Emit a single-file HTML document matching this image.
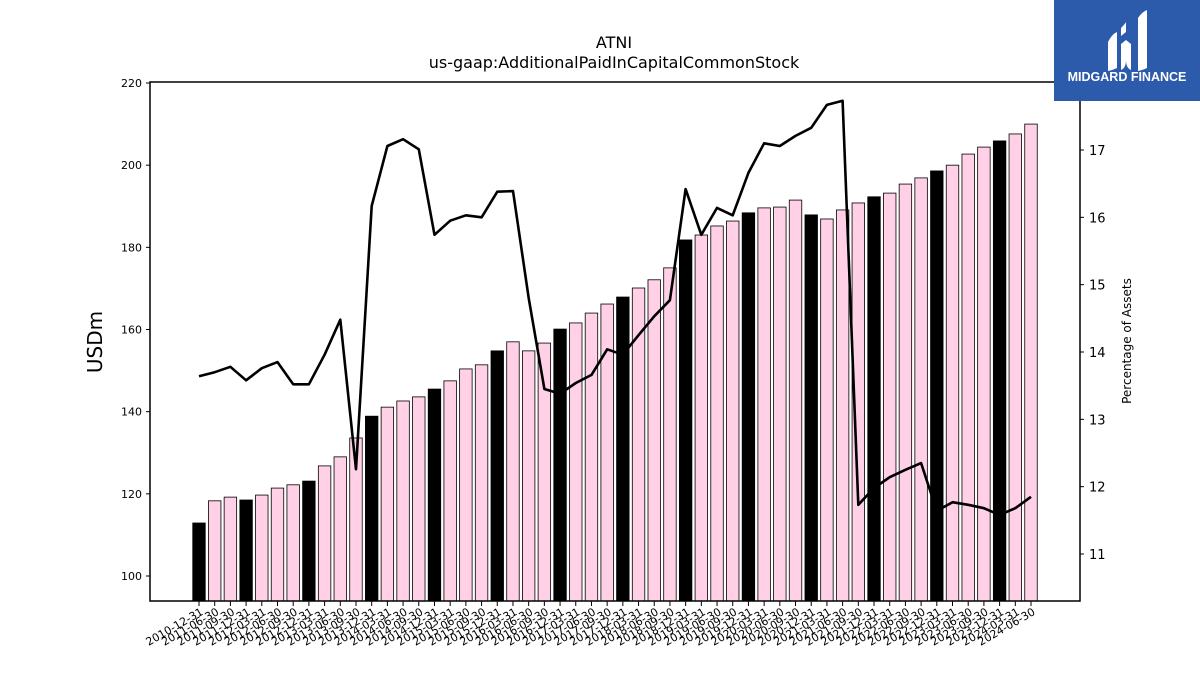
<!DOCTYPE html>
<html><head><meta charset="utf-8"><style>
html,body{margin:0;padding:0;background:#fff;width:1200px;height:675px;overflow:hidden;font-family:"Liberation Sans","DejaVu Sans",sans-serif;}
</style></head><body>
<svg id="chart" width="1200" height="675" xmlns="http://www.w3.org/2000/svg" font-family="'DejaVu Sans','Liberation Sans',sans-serif">
<rect width="1200" height="675" fill="#fff"/>
<text x="614" y="48" text-anchor="middle" font-size="16">ATNI</text>
<text x="614" y="68" text-anchor="middle" font-size="16">us-gaap:AdditionalPaidInCapitalCommonStock</text>
<g id="bars"></g>
<g id="line"></g>
<rect x="150" y="82" width="930" height="519" fill="none" stroke="#000" stroke-width="1.5"/>
<g id="yleft"></g>
<g id="yright"></g>
<g id="xaxis"></g>
<text x="102" y="342" font-size="20" text-anchor="middle" transform="rotate(-90 102 342)">USDm</text>
<text x="1131" y="341" font-size="12" text-anchor="middle" transform="rotate(-90 1131 341)">Percentage of Assets</text>
<g>
<rect x="1054" y="0" width="146" height="101" fill="#2d5bab"/>
<path d="M1108 42 q4 -8 9 -10 v36 q-4 2 -9 3z M1121 28 q4 -4 5 -6 v10 l-5 4z M1121 44 l5 -4 l5 4 v26 q-5 -2 -5 -10 q0 8 -5 10z M1138 18 q4 -6 9 -8 v58 q-4 2 -9 3z" fill="#fff"/>
<text x="1127" y="81" text-anchor="middle" font-size="12.5" font-weight="bold" fill="#fff" font-family="'Liberation Sans',sans-serif">MIDGARD FINANCE</text>
</g>
</svg>
<script>
const categories = ["2010-12-31","2011-06-30","2011-09-30","2011-12-31","2012-03-31","2012-06-30","2012-09-30","2012-12-31","2013-03-31","2013-06-30","2013-09-30","2013-12-31","2014-03-31","2014-06-30","2014-09-30","2014-12-31","2015-03-31","2015-06-30","2015-09-30","2015-12-31","2016-03-31","2016-06-30","2016-09-30","2016-12-31","2017-03-31","2017-06-30","2017-09-30","2017-12-31","2018-03-31","2018-06-30","2018-09-30","2018-12-31","2019-03-31","2019-06-30","2019-09-30","2019-12-31","2020-03-31","2020-06-30","2020-09-30","2020-12-31","2021-03-31","2021-06-30","2021-09-30","2021-12-31","2022-03-31","2022-06-30","2022-09-30","2022-12-31","2023-03-31","2023-06-30","2023-09-30","2023-12-31","2024-03-31","2024-06-30"];
const apicValues = [112.9,118.3,119.2,118.5,119.7,121.4,122.2,123.1,126.8,129.0,133.6,138.9,141.1,142.6,143.6,145.5,147.5,150.4,151.4,154.8,157.0,154.8,156.7,160.1,161.6,164.0,166.2,167.9,170.1,172.1,175.0,181.8,183.0,185.2,186.4,188.4,189.6,189.8,191.5,187.9,186.9,189.1,190.8,192.3,193.2,195.4,196.9,198.6,200.0,202.7,204.4,205.9,207.6,210.0];
const pctValues = [13.64,13.70,13.78,13.58,13.76,13.85,13.52,13.52,13.96,14.48,12.26,16.17,17.06,17.16,17.01,15.74,15.95,16.03,16.00,16.38,16.39,14.80,13.45,13.38,13.54,13.66,14.04,13.96,14.25,14.53,14.77,16.42,15.74,16.14,16.03,16.66,17.10,17.06,17.21,17.33,17.67,17.73,11.73,11.98,12.14,12.25,12.35,11.64,11.77,11.73,11.68,11.58,11.68,11.85];
const leftTicks = [100,120,140,160,180,200,220];
const rightTicks = [11,12,13,14,15,16,17];

const NS="http://www.w3.org/2000/svg";
const plotTop=82, plotBottom=601, plotLeft=150, plotRight=1080;
const yL = v => 576 + (v-100)*(83-576)/120;
const yR = v => 554 + (v-11)*(150-554)/6;
const xPos = i => 199 + i*(1031-199)/(categories.length-1);
const bw = 12.5;
function mk(tag, attrs, parent){const e=document.createElementNS(NS,tag);for(const k in attrs)e.setAttribute(k,attrs[k]);parent.appendChild(e);return e;}

const gb=document.getElementById('bars');
apicValues.forEach((v,i)=>{
  const isYE = categories[i].endsWith("12-31");
  const y=yL(v);
  const r=mk('rect',{x:xPos(i)-bw/2,y:y,width:bw,height:plotBottom-y,fill:isYE?'#000':'#ffd0e6',stroke:'#000','stroke-width':0.8},gb);
  
  
});

const gl=document.getElementById('line');
const pts=pctValues.map((v,i)=>xPos(i).toFixed(1)+','+yR(v).toFixed(1)).join(' ');
const pl=mk('polyline',{points:pts,fill:'none',stroke:'#000','stroke-width':2.6,'stroke-linejoin':'round'},gl);



const gyl=document.getElementById('yleft');
leftTicks.forEach(t=>{
  const y=yL(t);
  mk('line',{x1:plotLeft-4,x2:plotLeft,y1:y,y2:y,stroke:'#000','stroke-width':1},gyl);
  const tx=mk('text',{x:plotLeft-8,y:y+4,'text-anchor':'end','font-size':11},gyl);
  tx.textContent=t;
  
  
});
const gyr=document.getElementById('yright');
rightTicks.forEach(t=>{
  const y=yR(t);
  mk('line',{x1:plotRight,x2:plotRight+4,y1:y,y2:y,stroke:'#000','stroke-width':1},gyr);
  const tx=mk('text',{x:plotRight+9,y:y+5,'font-size':13},gyr);
  tx.textContent=t;
  
  
});
const gx=document.getElementById('xaxis');
categories.forEach((c,i)=>{
  const x=xPos(i);
  mk('line',{x1:x,x2:x,y1:plotBottom,y2:plotBottom+5,stroke:'#000','stroke-width':1},gx);
  const tx=mk('text',{x:x+5,y:plotBottom+13,'text-anchor':'end','font-size':11,transform:`rotate(-30 ${x+5} ${plotBottom+13})`},gx);
  tx.textContent=c;
  
  
});
</script>
</body></html>
